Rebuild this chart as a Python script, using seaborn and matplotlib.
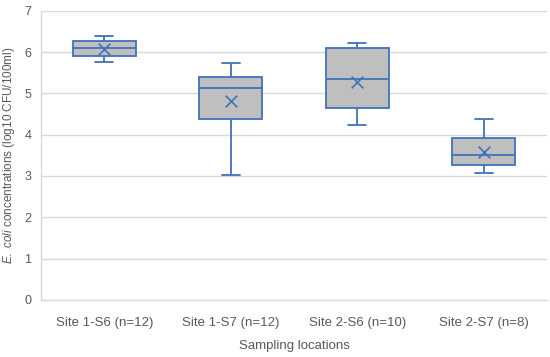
import matplotlib
matplotlib.use("Agg")
import matplotlib.pyplot as plt
import seaborn as sns
import pandas as pd

# Summary values (whisker low, Q1, median, Q3, whisker high)
categories = ["Site 1-S6 (n=12)", "Site 1-S7 (n=12)", "Site 2-S6 (n=10)", "Site 2-S7 (n=8)"]
whisker_low = [5.77, 3.02, 4.24, 3.08]
q1 = [5.90, 4.37, 4.64, 3.27]
median = [6.09, 5.12, 5.34, 3.50]
q3 = [6.27, 5.40, 6.09, 3.92]
whisker_high = [6.38, 5.74, 6.22, 4.39]
means = [6.08, 4.81, 5.27, 3.58]
y_ticks = [0, 1, 2, 3, 4, 5, 6, 7]

rows = []
for i, c in enumerate(categories):
    for v in (whisker_low[i], q1[i], median[i], q3[i], whisker_high[i]):
        rows.append({"loc": c, "val": v})
df = pd.DataFrame(rows)
dm = pd.DataFrame({"loc": categories, "mean": means})

sns.set_style("white")
plt.rcParams["font.family"] = ["Liberation Sans", "DejaVu Sans"]
plt.rcParams["mathtext.fontset"] = "custom"
plt.rcParams["mathtext.it"] = "Liberation Sans:italic"
plt.rcParams["mathtext.rm"] = "Liberation Sans"

blue = "#3F72BA"
gray_txt = "#595959"

fig = plt.figure(figsize=(5.5, 3.57), dpi=100)
ax = fig.add_axes([0.0745, 0.16, 0.92, 0.81])

sns.boxplot(data=df, x="loc", y="val", order=categories, whis=(0, 100),
            width=0.5, color="#BFBFBF", linecolor=blue, linewidth=1.3,
            showfliers=False, ax=ax, capwidths=0.14,
            boxprops=dict(facecolor="#BFBFBF", edgecolor=blue))
sns.scatterplot(data=dm, x="loc", y="mean", marker="x", s=70, color=blue,
                linewidth=1.2, ax=ax, zorder=5, legend=False)

ax.set_ylim(0, 7)
ax.set_xlim(-0.5, 3.5)
ax.set_yticks(y_ticks)
ax.yaxis.grid(True, color="#D9D9D9", linewidth=1)
ax.set_axisbelow(True)
for s in ["top", "right"]:
    ax.spines[s].set_visible(False)
for s in ["left", "bottom"]:
    ax.spines[s].set_color("#D9D9D9")
    ax.spines[s].set_linewidth(1)
ax.tick_params(axis="both", length=0, labelsize=9, labelcolor=gray_txt)
ax.tick_params(axis="x", pad=12, labelsize=9.5)
ax.tick_params(axis="y", pad=7)
ax.set_xlabel("Sampling locations", fontsize=9.5, color=gray_txt, labelpad=8)
ax.set_ylabel(r"$\it{E.\ coli}$ concentrations (log10 CFU/100ml)", fontsize=8.5,
              color=gray_txt, labelpad=5)

fig.savefig("out.png", dpi=100)
